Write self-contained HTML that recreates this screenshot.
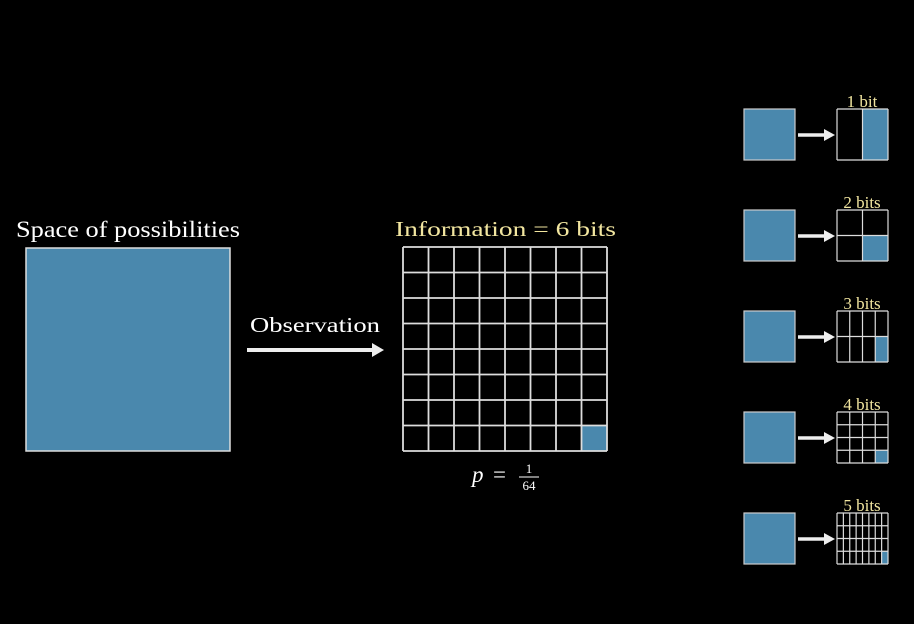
<!DOCTYPE html>
<html><head><meta charset="utf-8"><style>
html,body{margin:0;padding:0;background:#000;width:914px;height:624px;overflow:hidden}
text{font-family:"Liberation Serif",serif}
</style></head><body>
<svg id="s" width="914" height="624" viewBox="0 0 914 624">
<rect x="0" y="0" width="914" height="624" fill="#000"/>
<text x="16" y="237" font-size="23" fill="#fff" textLength="224" lengthAdjust="spacingAndGlyphs">Space of possibilities</text>
<rect x="26" y="248" width="204" height="203" fill="#4a88ad" stroke="#ddd" stroke-width="1.5"/>
<text x="250" y="332" font-size="21" fill="#fff" textLength="130" lengthAdjust="spacingAndGlyphs">Observation</text>
<g>
<line x1="247" y1="350" x2="374" y2="350" stroke="#eee" stroke-width="4"/>
<polygon points="384,350 372,343 372,357" fill="#eee"/>
</g>
<text x="395" y="236" font-size="21" fill="#f2e6a0" textLength="221" lengthAdjust="spacingAndGlyphs">Information = 6 bits</text>
<g id="main"></g>
<text x="472" y="482" font-size="23" font-style="italic" fill="#fff">p</text>
<text x="493" y="482" font-size="23" fill="#fff">=</text>
<text x="529" y="473" font-size="13" fill="#fff" text-anchor="middle">1</text>
<line x1="519" y1="477" x2="539" y2="477" stroke="#fff" stroke-width="1"/>
<text x="529" y="490" font-size="13" fill="#fff" text-anchor="middle">64</text>
<g id="side"></g>
</svg>
<script>
const bitLabels=["1 bit","2 bits","3 bits","4 bits","5 bits"];
const bitCols=[2,2,4,4,8];
const bitRows=[1,2,2,4,4];
const mainCols=8, mainRows=8;
const NS="http://www.w3.org/2000/svg";
function mk(t,a,p){const e=document.createElementNS(NS,t);for(const k in a)e.setAttribute(k,a[k]);p.appendChild(e);return e;}
function grid(p,x,y,w,h,c,r,sw){
  const cw=w/c, rh=h/r;
  const hl=mk('rect',{x:x+w-cw,y:y+h-rh,width:cw,height:rh,fill:'#4a88ad'},p);
  
  
  for(let i=0;i<=c;i++){const l=mk('line',{x1:x+i*cw,y1:y,x2:x+i*cw,y2:y+h,stroke:'#ddd','stroke-width':sw},p);
    
    }
  for(let j=0;j<=r;j++){const l=mk('line',{x1:x,y1:y+j*rh,x2:x+w,y2:y+j*rh,stroke:'#ddd','stroke-width':sw},p);
    
    }
}
grid(document.getElementById('main'),403,247,204,204,mainCols,mainRows,1.8);
const side=document.getElementById('side');
bitLabels.forEach((lab,i)=>{
  const y=109+i*101;
  const g=mk('g',{},side);
  
  
  const sq=mk('rect',{x:744,y:y,width:51,height:51,fill:'#4a88ad',stroke:'#ccc','stroke-width':1.2},g);
  
  
  const a=mk('line',{x1:798,y1:y+26,x2:826,y2:y+26,stroke:'#eee','stroke-width':3.5},g);
  
  
  const ah=mk('polygon',{points:`835,${y+26} 824,${y+20} 824,${y+32}`,fill:'#eee'},g);
  
  
  const t=mk('text',{x:862,y:y-2,'font-size':17,fill:'#f2e6a0','text-anchor':'middle'},g);
  t.textContent=lab;
  
  
  grid(g,837,y,51,51,bitCols[i],bitRows[i],1.2);
});
</script>
</body></html>
